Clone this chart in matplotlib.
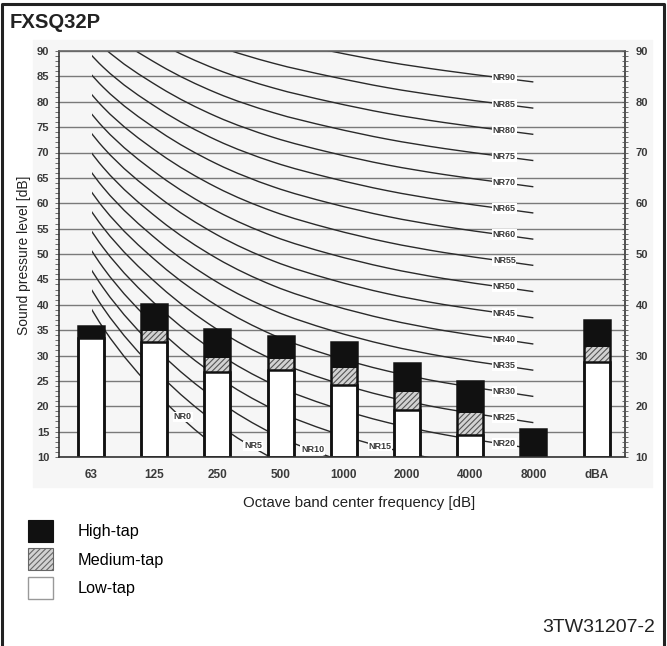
import numpy as np
import matplotlib
matplotlib.use('Agg')
import matplotlib.pyplot as plt
from matplotlib.patches import Patch, Rectangle, PathPatch
from matplotlib.path import Path
from matplotlib.lines import Line2D
from matplotlib.ticker import MultipleLocator

plt.rcParams['font.family'] = ['Liberation Sans', 'DejaVu Sans']
plt.rcParams['hatch.linewidth'] = 0.8

# ---- data ----
bands = ['63', '125', '250', '500', '1000', '2000', '4000', '8000', 'dBA']
high_tap = [35.8, 40.1, 35.2, 33.8, 32.7, 28.6, 25.0, 15.5, 37.0]
medium_tap = [33.5, 34.8, 29.6, 29.3, 27.6, 22.9, 18.6, 10.0, 31.7]
low_tap = [33.5, 32.6, 26.7, 27.1, 24.2, 19.3, 14.3, 10.0, 28.8]

# NR curves  L = a + b*NR  (31.5 ... 8000 Hz)
nr_freqs = [31.5, 63, 125, 250, 500, 1000, 2000, 4000, 8000]
nr_a = [55.4, 35.5, 22.0, 12.0, 4.8, 0.0, -3.5, -6.1, -8.0]
nr_b = [0.681, 0.790, 0.870, 0.930, 0.974, 1.000, 1.015, 1.025, 1.030]
nr_levels = list(range(0, 95, 5))
# low curves carry their label part way (octaves above 63 Hz)
nr_low_label_pos = {0: 1.40, 5: 2.63, 10: 3.68, 15: 4.86}


def smooth_path(px, py):
    # catmull-rom through the points, as cubic bezier segments
    pts = np.column_stack([px, py])
    verts = [pts[0]]
    codes = [Path.MOVETO]
    for i in range(len(pts) - 1):
        p0 = pts[i - 1] if i > 0 else pts[i]
        p1, p2 = pts[i], pts[i + 1]
        p3 = pts[i + 2] if i + 2 < len(pts) else pts[i + 1]
        verts += [p1 + (p2 - p0) / 6.0, p2 - (p3 - p1) / 6.0, p2]
        codes += [Path.CURVE4] * 3
    return Path(verts, codes)


W, H = 667, 646
fig = plt.figure(figsize=(W / 100, H / 100), dpi=100)

# scanned background + frame
fig.add_artist(Rectangle((33 / W, 1 - 487 / H), (652 - 33) / W, (487 - 40) / H,
                         transform=fig.transFigure, color='#f6f6f6', zorder=-1))
fig.add_artist(Line2D(np.array([2, 2, 664, 664]) / W, 1 - np.array([646, 4, 4, 646]) / H,
                      transform=fig.transFigure, color='#222', lw=2.2))

ax = fig.add_axes([59 / W, 1 - 457 / H, (625 - 59) / W, (457 - 51) / H])
ax.set_facecolor('none')
ax.set_xlim(-0.506, 8.45)
ax.set_ylim(10, 90)

# grid
ax.set_yticks(range(10, 95, 5))
ax.yaxis.set_minor_locator(MultipleLocator(1))
ax.yaxis.grid(True, which='major', color='#7a7a7a', lw=1.0, zorder=0.5)
ax.set_axisbelow(True)

# ---- NR curves (overlay drawn on a slightly narrower frequency scale) ----
oct_idx = np.log2(np.array(nr_freqs) / 63.0)
nr_x0, nr_dx = 0.19, 0.902
o_start, o_end = -0.2, 7.55
clip = Rectangle((nr_x0 + nr_dx * o_start, 10), nr_dx * (o_end - o_start) + 0.1, 80,
                 transform=ax.transData)
for nr in nr_levels:
    L = np.array(nr_a) + np.array(nr_b) * nr
    os_ = np.concatenate([oct_idx, [o_end]])
    ls_ = np.concatenate([L, [L[-1] + (L[-1] - L[-2]) * (o_end - 7)]])
    pp = PathPatch(smooth_path(nr_x0 + nr_dx * os_, ls_), fill=False,
                   edgecolor='#2a2a2a', lw=1.0, zorder=1)
    ax.add_patch(pp)
    pp.set_clip_path(clip)
    if nr in nr_low_label_pos:
        o_lab = nr_low_label_pos[nr]
    else:
        o_lab = 7.04
    ax.text(nr_x0 + nr_dx * o_lab, np.interp(o_lab, oct_idx, L), 'NR%d' % nr,
            fontsize=6.5, fontweight='bold', color='#3a3a3a', ha='center', va='center',
            zorder=1.5, bbox=dict(facecolor='white', edgecolor='none', pad=0.6))

# ---- bars ----
x = np.arange(len(bands))
bw = 0.41
base = 10
ax.bar(x, np.array(high_tap) - base, bw, bottom=base, color='#111111', lw=0, zorder=2)
ax.bar(x, np.array(medium_tap) - base, bw, bottom=base, facecolor='#d2d2d2',
       edgecolor='#555555', hatch='//////', lw=0, zorder=2.1)
ax.bar(x, np.array(low_tap) - base, bw, bottom=base, facecolor='white',
       edgecolor='#111111', lw=1.8, zorder=2.2)
ax.bar(x, np.array(high_tap) - base, bw, bottom=base, facecolor='none',
       edgecolor='#111111', lw=1.8, zorder=2.3)

# ---- axes styling ----
ax.set_xticks(x, bands)
ax.tick_params(axis='x', length=0, pad=9, labelsize=8.5, labelcolor='#3a3a3a')
ax.tick_params(axis='y', which='both', direction='out', length=3, width=0.6,
               color='#555', labelsize=8, labelcolor='#3a3a3a', pad=4)
for lab in ax.get_xticklabels() + ax.get_yticklabels():
    lab.set_fontweight('bold')
for s in ['left', 'bottom', 'right']:
    ax.spines[s].set_color('#333')
    ax.spines[s].set_linewidth(1.2)
ax.spines['top'].set_color('#666')
ax.spines['top'].set_linewidth(1.2)

ax2 = ax.twinx()
ax2.set_ylim(10, 90)
ax2.set_yticks(range(10, 95, 10))
ax2.yaxis.set_minor_locator(MultipleLocator(1))
ax2.tick_params(axis='y', which='both', direction='inout', length=5, width=0.6,
                color='#555', labelsize=8, labelcolor='#3a3a3a', pad=5)
for lab in ax2.get_yticklabels():
    lab.set_fontweight('bold')
for s in ax2.spines.values():
    s.set_visible(False)

# ---- texts ----
fig.text(10 / W, 1 - 22 / H, 'FXSQ32P', fontsize=14.6, fontweight='bold',
         ha='left', va='center', color='#222')
fig.text(24 / W, 1 - 255 / H, 'Sound pressure level [dB]', rotation=90,
         fontsize=10, ha='center', va='center', color='#222')
fig.text(359 / W, 1 - 503 / H, 'Octave band center frequency [dB]',
         fontsize=10.8, ha='center', va='center', color='#222')
fig.text(655 / W, 1 - 627 / H, '3TW31207-2', fontsize=14,
         ha='right', va='center', color='#222')

handles = [Patch(facecolor='#111111', edgecolor='#111111', lw=0.8),
           Patch(facecolor='#d2d2d2', edgecolor='#666666', hatch='//////', lw=0.8),
           Patch(facecolor='white', edgecolor='#999999', lw=1.0)]
fig.legend(handles, ['High-tap', 'Medium-tap', 'Low-tap'], loc='upper left',
           bbox_to_anchor=(28 / W, 1 - 520 / H), frameon=False, fontsize=11.7,
           handlelength=1.55, handleheight=1.7, handletextpad=1.5,
           labelspacing=0.4, borderpad=0, borderaxespad=0)

fig.savefig('out.png', dpi=100)
